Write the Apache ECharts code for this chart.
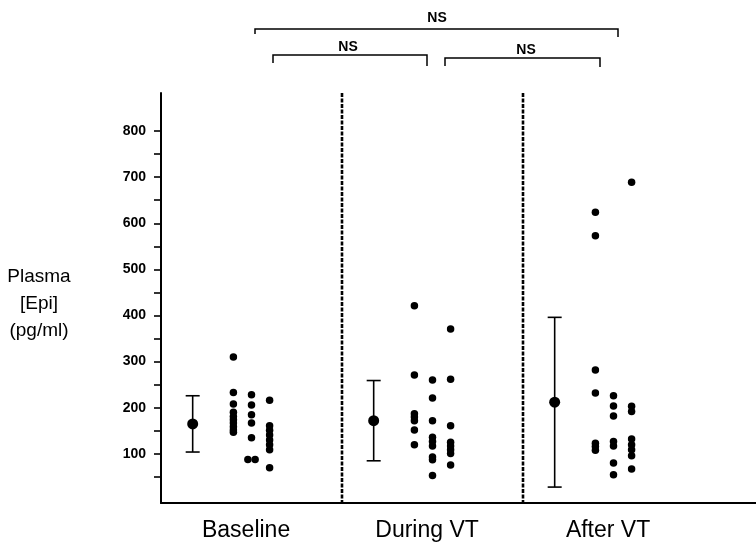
<!DOCTYPE html>
<html lang="en">
<head>
<meta charset="UTF-8">
<title>Plasma Epi</title>
<script src="https://cdn.jsdelivr.net/npm/echarts@6/dist/echarts.min.js"></script>
<style>
  html, body { margin: 0; padding: 0; background: #fff; }
  #chart { width: 756px; height: 547px; }
</style>
</head>
<body>
<div id="chart"></div>
<script>
// data (pg/ml)
var groups = ['Baseline', 'During VT', 'After VT'];
var means = [165, 172, 212];
var sds = [61, 87, 184];
var baseline = [
  [310, 233, 208, 190, 181, 174, 167, 159, 152, 147],
  [228, 206, 185, 167, 135, 88, 88],
  [216, 161, 151, 141, 130, 120, 109, 70]
];
var duringVT = [
  [421, 271, 187, 180, 172, 152, 120],
  [260, 221, 172, 136, 127, 117, 93, 87, 53],
  [371, 262, 161, 125, 117, 109, 101, 76]
];
var afterVT = [
  [624, 573, 282, 232, 123, 116, 108],
  [226, 204, 182, 127, 117, 80, 55],
  [689, 203, 192, 132, 120, 109, 96, 67]
];
var yTicks = [50, 100, 150, 200, 250, 300, 350, 400, 450, 500, 550, 600, 650, 700, 750, 800];
var yLabels = [100, 200, 300, 400, 500, 600, 700, 800];

// layout (x in "group" units, one group = 181px)
var xMax = 595 / 181;
var meanOffset = 0.175;
var colOffsets = [0.4, 0.5, 0.6];
var labelOffset = 0.47;
var FONT = '"Liberation Sans", Arial, Helvetica, sans-serif';

var dots = [];
[baseline, duringVT, afterVT].forEach(function (cols, g) {
  cols.forEach(function (vals, c) {
    var seen = {};
    vals.forEach(function (v) {
      var n = vals.filter(function (w) { return w === v; }).length;
      var k = seen[v] || 0;
      seen[v] = k + 1;
      // equal values sit side by side
      dots.push([g + colOffsets[c] + (k - (n - 1) / 2) * 0.04, v]);
    });
  });
});

var meanData = means.map(function (m, i) { return [i + meanOffset, m]; });
var barData = means.map(function (m, i) { return [i + meanOffset, m - sds[i], m + sds[i]]; });
var labelPos = groups.map(function (g, i) { return i + labelOffset; });

var chart = echarts.init(document.getElementById('chart'));
chart.setOption({
  animation: false,
  backgroundColor: '#fff',
  textStyle: { fontFamily: FONT },
  grid: [
    { left: 161, right: 0, top: 131, bottom: 47 },   // data
    { left: 161, right: 0, top: 93, bottom: 44 }     // frame
  ],
  xAxis: [
    { gridIndex: 0, type: 'value', min: 0, max: xMax, show: false },
    {
      gridIndex: 1, type: 'value', min: 0, max: xMax,
      splitLine: { show: false },
      axisTick: { show: false },
      axisLine: { lineStyle: { color: '#000', width: 2 } },
      axisLabel: {
        customValues: labelPos,
        formatter: function (v) { return groups[Math.floor(v)]; },
        color: '#000', fontSize: 23, fontFamily: FONT, margin: 16
      }
    }
  ],
  yAxis: [
    {
      gridIndex: 0, type: 'value', min: 0, max: 800,
      splitLine: { show: false },
      axisLine: { show: false },
      axisTick: { customValues: yTicks, length: 7, lineStyle: { color: '#000', width: 1.6 } },
      axisLabel: {
        customValues: yLabels,
        color: '#000', fontSize: 14, fontWeight: 'bold', fontFamily: FONT, margin: 15
      }
    },
    {
      gridIndex: 1, type: 'value', min: 0, max: 1,
      splitLine: { show: false },
      axisTick: { show: false },
      axisLabel: { show: false },
      axisLine: { lineStyle: { color: '#000', width: 2 } }
    }
  ],
  series: [
    {
      // dashed group separators
      type: 'custom', xAxisIndex: 1, yAxisIndex: 1, silent: true,
      data: [[1], [2]],
      renderItem: function (params, api) {
        var cs = params.coordSys;
        var x = api.coord([api.value(0), 0])[0];
        return {
          type: 'line',
          shape: { x1: x, y1: cs.y, x2: x, y2: cs.y + cs.height },
          style: { stroke: '#000', lineWidth: 2.6, lineDash: [4, 1.5] }
        };
      }
    },
    {
      type: 'custom', xAxisIndex: 0, yAxisIndex: 0, silent: true,
      data: barData,
      renderItem: function (params, api) {
        var lo = api.coord([api.value(0), api.value(1)]);
        var hi = api.coord([api.value(0), api.value(2)]);
        var w = 7;
        var st = { stroke: '#000', lineWidth: 1.6 };
        return {
          type: 'group',
          children: [
            { type: 'line', shape: { x1: lo[0], y1: lo[1], x2: hi[0], y2: hi[1] }, style: st },
            { type: 'line', shape: { x1: lo[0] - w, y1: lo[1], x2: lo[0] + w, y2: lo[1] }, style: st },
            { type: 'line', shape: { x1: hi[0] - w, y1: hi[1], x2: hi[0] + w, y2: hi[1] }, style: st }
          ]
        };
      }
    },
    {
      type: 'scatter', xAxisIndex: 0, yAxisIndex: 0, silent: true,
      symbolSize: 11,
      itemStyle: { color: '#000', opacity: 1 },
      data: meanData
    },
    {
      type: 'scatter', xAxisIndex: 0, yAxisIndex: 0, silent: true,
      symbolSize: 7.5,
      itemStyle: { color: '#000', opacity: 1 },
      data: dots
    }
  ],
  graphic: [
    {
      type: 'text',
      style: {
        x: 39, y: 304, text: 'Plasma\n[Epi]\n(pg/ml)',
        font: '19px ' + FONT, fill: '#000',
        align: 'center', verticalAlign: 'middle', lineHeight: 27
      }
    },
    // significance brackets
    { type: 'polyline', shape: { points: [[255, 34], [255, 29], [618, 29], [618, 37]] }, style: { stroke: '#000', lineWidth: 1.5, fill: null } },
    { type: 'polyline', shape: { points: [[273, 63], [273, 55], [427, 55], [427, 66]] }, style: { stroke: '#000', lineWidth: 1.5, fill: null } },
    { type: 'polyline', shape: { points: [[445, 66], [445, 58], [600, 58], [600, 67]] }, style: { stroke: '#000', lineWidth: 1.5, fill: null } },
    { type: 'text', style: { x: 437, y: 18, text: 'NS', font: 'bold 14px ' + FONT, fill: '#000', align: 'center', verticalAlign: 'middle' } },
    { type: 'text', style: { x: 348, y: 47, text: 'NS', font: 'bold 14px ' + FONT, fill: '#000', align: 'center', verticalAlign: 'middle' } },
    { type: 'text', style: { x: 526, y: 50, text: 'NS', font: 'bold 14px ' + FONT, fill: '#000', align: 'center', verticalAlign: 'middle' } }
  ]
});
</script>
</body>
</html>
